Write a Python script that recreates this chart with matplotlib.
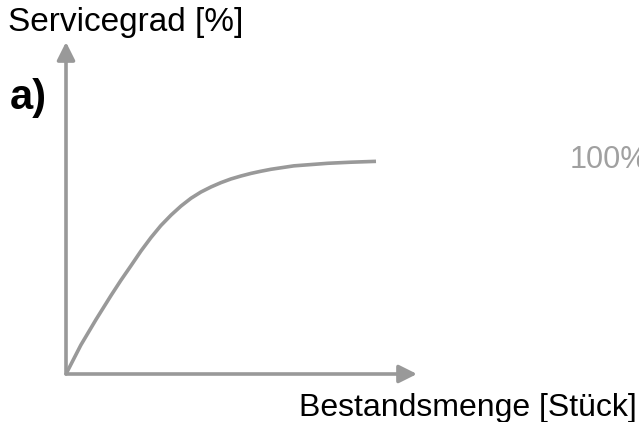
import matplotlib.pyplot as plt

plt.rcParams['font.family'] = ['Liberation Sans', 'DejaVu Sans']

# Bestand (arbitrary units) vs. Servicegrad in %
bestand = [0, 0.48, 0.97, 1.45, 1.77, 2.10, 2.42, 2.74, 3.06, 3.39, 3.71, 4.03, 4.35,
           4.68, 5.0, 5.32, 5.65, 5.97, 6.29, 6.61, 7.35, 7.90, 8.45, 9.19, 10.0]
servicegrad = [0, 13.5, 25.4, 36.5, 43.6, 50.5, 57.3, 63.5, 69.1, 74.0, 78.2, 81.8, 84.7,
               87.1, 89.1, 90.8, 92.2, 93.4, 94.4, 95.3, 96.9, 97.5, 98.1, 98.6, 99.0]

grey = '#999999'

fig = plt.figure(figsize=(6.39, 4.22), dpi=100)
ax = fig.add_axes([66 / 639, 48 / 422, 351 / 639, 332 / 422])
ax.set_xlim(0, 351 / 31)
ax.set_ylim(0, 332 / 2.148)
ax.axis('off')

ax.plot(bestand, servicegrad, color=grey, lw=2.6, solid_capstyle='butt',
        solid_joinstyle='round')

# axes arrows
arrow = dict(arrowstyle='-|>,head_length=0.6,head_width=0.3', color=grey, lw=2.6,
             mutation_scale=18, shrinkA=0, shrinkB=0)
ax.annotate('', xy=(1, 0), xytext=(0, 0), xycoords='axes fraction', arrowprops=arrow)
ax.annotate('', xy=(0, 1), xytext=(0, 0), xycoords='axes fraction', arrowprops=arrow)

fig.text(8 / 639, 1 - 22 / 422, 'Servicegrad [%]', fontsize=24, va='center', ha='left')
fig.text(637 / 639, 1 - 408 / 422, 'Bestandsmenge [Stück]', fontsize=23, va='center', ha='right')
fig.text(10 / 639, 1 - 98 / 422, 'a)', fontsize=30, fontweight='bold', va='center', ha='left')
fig.text(570 / 639, 1 - 160 / 422, '100%', fontsize=22, color='#a0a0a0', va='center', ha='left')

fig.savefig('out.png', dpi=100)
